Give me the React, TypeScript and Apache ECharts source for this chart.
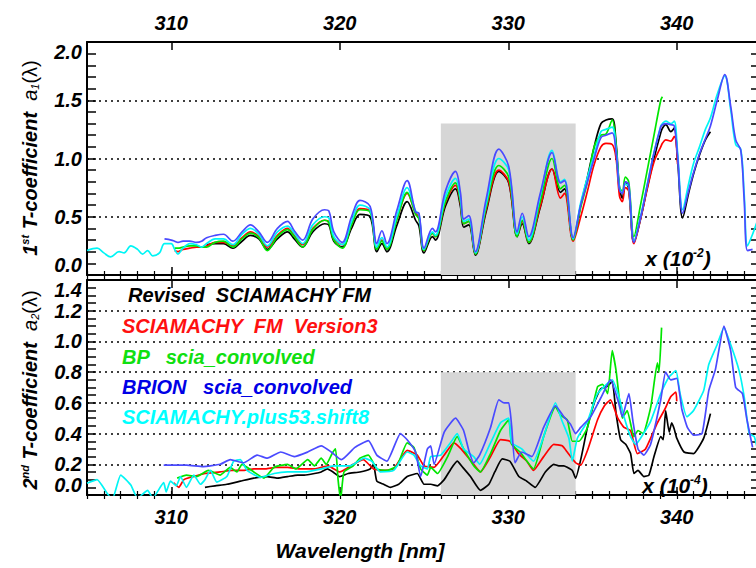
import React, { useEffect, useRef } from "react";
import * as echarts from "echarts";

// ---------- DATA ----------
// Top panel: shared wavelength grid (nm) for the 1st T-coefficient a1 (x 1e-2)
const wlTop = [
  305.0, 305.6, 306.0, 306.4, 306.9, 307.2, 307.6, 308.0, 308.3, 308.6,
  308.9, 309.3, 309.6, 310.0, 310.2, 310.4, 310.7, 311.1, 311.5, 311.8,
  312.1, 312.6, 313.1, 313.66, 314.2, 314.7, 315.2, 315.7, 316.3, 316.9,
  317.3, 317.8, 318.4, 319.1, 319.35, 319.65, 320.15, 320.7, 321.2, 321.8,
  322.2, 322.5, 322.8, 323.4, 324.0, 324.5, 324.7, 325.0, 325.5, 325.68,
  326.27, 326.87, 327.16, 327.36, 327.66, 328.05, 328.7, 329.44, 330.03, 330.53,
  330.83, 331.22, 331.9, 332.6, 333.1, 333.34, 333.85, 334.3, 334.7, 335.1,
  335.5, 335.8, 336.17, 336.4, 336.6, 336.77, 336.95, 337.15, 337.46, 337.85,
  338.25, 338.65, 339.05, 339.15, 339.35, 339.65, 339.85, 340.05, 340.35, 340.7,
  341.0, 341.35, 341.7, 342.0, 342.4, 342.85, 343.2, 343.5, 343.8, 344.0,
  344.2, 344.5, 344.8,
];
const N = null;
const a1Revised = [
  N, N, N, N, N, N, N, N, N, N,
  N, N, N, N, N, N, N, N, N, N,
  0.26, 0.27, 0.27, 0.23, 0.29, 0.34, 0.31, 0.22, 0.31, 0.37,
  0.31, 0.24, 0.37, 0.44, 0.43, 0.29, 0.24, 0.40, 0.52, 0.50,
  0.20, 0.27, 0.20, 0.43, 0.63, 0.47, 0.42, 0.19, 0.33, 0.30,
  0.59, 0.74, 0.59, 0.41, 0.43, 0.17, 0.55, 0.89, 0.79, 0.33,
  0.44, 0.27, 0.58, 0.91, 0.71, 0.74, 0.30, 0.60, 0.84, 1.10,
  1.30, 1.33, 1.34, 1.13, 0.75, 0.66, 0.80, 0.74, 0.28, 0.48,
  0.75, 1.00, 1.22, 1.26, 1.29, 1.23, 1.26, 0.99, 0.49, 0.70,
  0.87, 1.03, 1.16, 1.23, N, N, N, N, N, N,
  N, N, N,
];
const a1Version3 = [
  N, N, N, N, N, N, N, N, N, N,
  N, N, N, N, 0.21, 0.20, 0.22, 0.23, 0.24, 0.24,
  0.25, 0.28, 0.28, 0.25, 0.32, 0.37, 0.33, 0.24, 0.34, 0.40,
  0.34, 0.26, 0.40, 0.47, 0.46, 0.31, 0.26, 0.43, 0.57, 0.55,
  0.23, 0.30, 0.23, 0.48, 0.70, 0.53, 0.50, 0.21, 0.36, 0.33,
  0.62, 0.77, 0.62, 0.44, 0.46, 0.18, 0.57, 0.90, 0.80, 0.34,
  0.46, 0.28, 0.59, 0.91, 0.66, 0.70, 0.29, 0.50, 0.72, 0.95,
  1.10, 1.13, 1.12, 1.00, 0.68, 0.63, 0.75, 0.72, 0.27, 0.48,
  0.74, 0.97, 1.10, 1.13, 1.16, 1.15, 1.19, 0.95, N, N,
  N, N, N, N, N, N, N, N, N, N,
  N, N, N,
];
const a1BP = [
  N, N, N, N, N, N, N, N, N, N,
  N, N, N, N, 0.23, 0.23, 0.24, 0.25, 0.25, 0.24,
  0.24, 0.28, 0.29, 0.24, 0.31, 0.36, 0.32, 0.21, 0.33, 0.39,
  0.33, 0.24, 0.39, 0.47, 0.45, 0.30, 0.23, 0.43, 0.56, 0.54,
  0.22, 0.29, 0.22, 0.48, 0.71, 0.52, 0.48, 0.21, 0.36, 0.33,
  0.63, 0.79, 0.63, 0.44, 0.46, 0.18, 0.59, 0.94, 0.84, 0.33,
  0.47, 0.28, 0.63, 1.00, 0.74, 0.77, 0.30, 0.58, 0.80, 1.10,
  1.20, 1.21, 1.33, 1.10, 0.75, 0.72, 0.84, 0.80, 0.33, 0.60,
  0.90, 1.20, 1.50, 1.53, N, N, N, N, N, N,
  N, N, N, N, N, N, N, N, N, N,
  N, N, N,
];
const a1Brion = [
  N, N, N, N, N, N, N, N, N, N,
  N, N, 0.31, 0.30, 0.29, 0.28, 0.29, 0.29, 0.28, 0.29,
  0.32, 0.34, 0.35, 0.29, 0.37, 0.43, 0.37, 0.28, 0.40, 0.46,
  0.38, 0.30, 0.48, 0.56, 0.55, 0.37, 0.28, 0.50, 0.64, 0.59,
  0.27, 0.38, 0.27, 0.56, 0.81, 0.54, 0.53, 0.23, 0.40, 0.37,
  0.72, 0.89, 0.71, 0.48, 0.51, 0.20, 0.66, 1.08, 0.93, 0.37,
  0.53, 0.33, 0.70, 1.05, 0.79, 0.81, 0.32, 0.60, 0.80, 1.00,
  1.18, 1.20, 1.22, 1.05, 0.73, 0.70, 0.80, 0.78, 0.28, 0.49,
  0.77, 1.05, 1.27, 1.29, 1.30, 1.29, 1.28, 1.02, 0.53, 0.72,
  0.88, 1.04, 1.17, 1.28, 1.50, 1.72, 1.45, 1.16, 1.07, 0.65,
  0.21, 0.22, N,
];
const a1Shift8 = [
  0.21, 0.23, 0.19, 0.155, 0.20, 0.19, 0.25, 0.22, 0.18, 0.21,
  0.165, 0.19, 0.27, 0.27, 0.22, 0.18, 0.23, 0.27, 0.26, 0.24,
  0.27, 0.31, 0.31, 0.26, 0.35, 0.40, 0.35, 0.25, 0.37, 0.42,
  0.36, 0.27, 0.43, 0.50, 0.49, 0.33, 0.26, 0.46, 0.60, 0.56,
  0.24, 0.32, 0.24, 0.51, 0.75, 0.55, 0.52, 0.22, 0.37, 0.34,
  0.67, 0.83, 0.66, 0.46, 0.48, 0.19, 0.62, 1.00, 0.90, 0.35,
  0.50, 0.30, 0.68, 1.07, 0.80, 0.82, 0.31, 0.62, 0.84, 1.03,
  1.23, 1.25, 1.27, 1.08, 0.75, 0.70, 0.78, 0.76, 0.29, 0.50,
  0.78, 1.05, 1.28, 1.30, 1.32, 1.30, 1.32, 1.05, 0.56, 0.78,
  0.96, 1.10, 1.25, 1.35, 1.55, 1.71, 1.42, 1.12, 1.08, 0.70,
  0.25, 0.35, 0.47,
];

// Bottom panel: 2nd T-coefficient a2 (x 1e-4), per-series wavelengths
const wlRevised2 = [
  312.0, 312.6, 313.3, 314.1, 314.9, 315.7, 316.3, 316.9, 317.5, 317.9,
  318.5, 318.9, 319.26, 319.6, 320.0, 320.5, 321.2, 321.8, 322.0, 322.2,
  322.6, 323.0, 323.5, 324.0, 324.6, 325.0, 325.4, 325.8, 326.2, 326.6,
  326.97, 327.3, 327.76, 328.35, 328.85, 329.2, 329.64, 330.1, 330.63, 331.1,
  331.6, 332.2, 332.7, 333.0, 333.3, 333.5, 333.8, 334.0, 334.3, 334.7,
  335.1, 335.48, 335.9, 336.17, 336.4, 336.67, 336.97, 337.26, 337.46, 337.7,
  338.05, 338.35, 338.65, 339.05, 339.2, 339.34, 339.55, 339.7, 339.85, 340.0,
  340.43, 341.0, 341.6, 342.0,
];
const a2Revised = [
  0.05, 0.06, 0.07, 0.09, 0.11, 0.12, 0.11, 0.12, 0.13, 0.13,
  0.14, 0.15, 0.17, 0.15, 0.12, 0.14, 0.15, 0.17, 0.20, 0.09,
  0.07, 0.05, 0.07, 0.12, 0.14, 0.07, 0.07, 0.06, 0.10, 0.17,
  0.22, 0.18, 0.12, 0.03, 0.07, 0.15, 0.235, 0.22, 0.12, 0.09,
  0.05, 0.15, 0.20, 0.19, 0.19, 0.18, 0.16, 0.11, 0.23, 0.44,
  0.60, 0.69, 0.71, 0.74, 0.53, 0.36, 0.33, 0.27, 0.14, 0.16,
  0.12, 0.13, 0.25, 0.38, 0.36, 0.55, 0.41, 0.47, 0.43, 0.37,
  0.28, 0.27, 0.37, 0.53,
];
const wlVersion3_2 = [
  310.15, 310.45, 310.75, 311.3, 312.0, 312.9, 313.6, 314.3, 314.9, 315.6,
  316.2, 316.9, 317.6, 318.5, 319.3, 320.0, 320.8, 321.4, 322.0, 322.6,
  323.2, 324.0, 324.6, 325.0, 325.6, 326.2, 326.77, 327.2, 327.8, 328.35,
  328.95, 329.54, 330.1, 330.6, 331.1, 331.5, 332.1, 332.7, 333.2, 333.5,
  334.0, 334.3, 334.7, 335.3, 335.7, 336.07, 336.5, 336.87, 337.26, 337.66,
  338.15, 338.85, 339.3, 339.64, 339.95, 340.0,
];
const a2Version3 = [
  0.08, 0.05, 0.10, 0.12, 0.14, 0.15, 0.16, 0.16, 0.17, 0.17,
  0.18, 0.18, 0.17, 0.17, 0.19, 0.15, 0.20, 0.23, 0.17, 0.16,
  0.17, 0.29, 0.26, 0.19, 0.18, 0.26, 0.34, 0.30, 0.22, 0.15,
  0.25, 0.36, 0.35, 0.27, 0.22, 0.16, 0.25, 0.33, 0.32, 0.28,
  0.21, 0.195, 0.29, 0.49, 0.58, 0.62, 0.50, 0.44, 0.42, 0.27,
  0.30, 0.47, 0.56, 0.64, 0.67, 0.61,
];
const wlBP2 = [
  310.35, 310.9, 311.5, 312.2, 312.9, 313.5, 313.9, 314.2, 314.9, 315.5,
  316.1, 316.9, 317.4, 318.1, 318.5, 318.9, 319.2, 319.55, 319.75, 319.9,
  320.05, 320.25, 320.8, 321.2, 321.7, 322.2, 322.8, 323.4, 324.0, 324.4,
  324.8, 325.2, 325.4, 325.8, 326.4, 326.97, 327.35, 327.95, 328.35, 328.95,
  329.54, 330.03, 330.2, 330.7, 331.5, 332.1, 332.8, 333.1, 333.5, 333.8,
  334.2, 334.7, 335.3, 335.6, 335.9, 336.17, 336.4, 336.77, 337.06, 337.46,
  337.7, 338.0, 338.46, 338.85, 338.95, 339.1,
];
const a2BP = [
  0.11, 0.13, 0.12, 0.16, 0.13, 0.18, 0.15, 0.20, 0.15, 0.11,
  0.18, 0.20, 0.17, 0.23, 0.19, 0.24, 0.20, 0.27, 0.30, 0.10,
  -0.03, 0.15, 0.19, 0.24, 0.26, 0.17, 0.16, 0.19, 0.34, 0.31,
  0.17, 0.13, 0.18, 0.14, 0.25, 0.38, 0.30, 0.19, 0.15, 0.27,
  0.42, 0.49, 0.33, 0.28, 0.17, 0.38, 0.575, 0.52, 0.49, 0.35,
  0.35, 0.44, 0.705, 0.72, 0.66, 0.94, 0.81, 0.50, 0.55, 0.38,
  0.42, 0.40, 0.575, 0.86, 0.80, 1.09,
];
const wlBrion2 = [
  309.55, 310.9, 311.9, 312.9, 313.5, 314.3, 315.1, 315.7, 316.5, 317.3,
  318.1, 318.9, 319.5, 320.1, 320.9, 321.7, 322.2, 322.8, 323.6, 324.0,
  324.5, 324.8, 325.2, 325.4, 325.6, 326.2, 326.87, 327.35, 327.66, 327.95,
  328.3, 328.95, 329.44, 329.75, 330.03, 330.2, 330.4, 330.8, 331.4, 332.1,
  332.8, 333.3, 333.7, 333.99, 334.3, 334.9, 335.48, 336.07, 336.5, 336.77,
  337.16, 337.4, 337.7, 338.05, 338.45, 339.05, 339.34, 339.64, 340.0, 340.3,
  340.63, 341.0, 341.5, 341.9, 342.3, 342.8, 343.2, 343.5, 343.9, 344.15,
  344.5,
];
const a2Brion = [
  0.195, 0.195, 0.185, 0.20, 0.23, 0.21, 0.26, 0.24, 0.28, 0.25,
  0.28, 0.32, 0.28, 0.23, 0.31, 0.354, 0.26, 0.22, 0.40, 0.36,
  0.28, 0.12, 0.30, 0.32, 0.20, 0.41, 0.50, 0.42, 0.29, 0.21,
  0.26, 0.44, 0.62, 0.60, 0.60, 0.45, 0.21, 0.28, 0.25, 0.44,
  0.58, 0.51, 0.46, 0.40, 0.44, 0.51, 0.63, 0.75, 0.62, 0.51,
  0.66, 0.48, 0.30, 0.26, 0.33, 0.62, 0.80, 0.75, 0.76, 0.56,
  0.44, 0.39, 0.40, 0.68, 0.82, 1.10, 0.94, 0.70, 0.66, 0.50,
  0.31,
];
const wlShift8_2 = [
  305.0, 305.6, 306.2, 306.5, 307.0, 307.6, 308.0, 308.6, 308.9, 309.55,
  309.7, 309.95, 310.3, 310.55, 310.9, 311.34, 311.73, 312.0, 312.33, 312.7,
  313.3, 313.7, 314.1, 314.5, 315.3, 316.1, 316.9, 317.9, 318.9, 319.65,
  320.6, 321.45, 321.9, 322.4, 323.2, 324.0, 324.4, 324.8, 325.2, 325.4,
  326.0, 326.57, 326.97, 327.35, 327.95, 328.3, 328.95, 329.54, 330.03, 330.2,
  330.8, 331.5, 332.1, 332.8, 333.2, 333.6, 333.8, 334.1, 334.7, 335.3,
  336.17, 336.57, 336.87, 337.26, 337.56, 337.85, 338.45, 339.05, 339.55, 339.95,
  340.2, 340.6, 341.0, 341.6, 341.9, 342.4, 342.8, 343.2, 343.7, 344.0,
  344.3, 344.6, 344.8,
];
const a2Shift8 = [
  0.076, 0.10, 0.01, -0.03, 0.13, 0.065, -0.02, 0.03, -0.02, 0.08,
  0.02, 0.09, 0.06, 0.12, 0.05, 0.13, 0.07, 0.10, 0.16, 0.084,
  0.12, 0.22, 0.23, 0.16, 0.115, 0.14, 0.15, 0.15, 0.17, 0.19,
  0.19, 0.24, 0.22, 0.15, 0.16, 0.28, 0.26, 0.19, 0.17, 0.25,
  0.26, 0.34, 0.40, 0.30, 0.25, 0.20, 0.34, 0.47, 0.50, 0.34,
  0.30, 0.22, 0.38, 0.60, 0.48, 0.37, 0.22, 0.37, 0.48, 0.66,
  0.75, 0.64, 0.51, 0.38, 0.33, 0.37, 0.48, 0.66, 0.77, 0.81,
  0.66, 0.51, 0.55, 0.68, 0.85, 0.98, 1.09, 0.98, 0.81, 0.64,
  0.40, 0.38, 0.29,
];

const seriesNames = [
  "Revised  SCIAMACHY FM",
  "SCIAMACHY  FM  Version3",
  "BP   scia_convolved",
  "BRION   scia_convolved",
  "SCIAMACHY.plus53.shift8",
];
const xRange = [305, 345];
const a1Range = [0, 2.0];
const a2Range = [0, 1.4];
const shadeWl = [326, 334];
const shadeTopA1 = 1.3;
const shadeTopA2 = 0.8;

// ---------- STYLE ----------
const F = "'Liberation Sans', Arial, Helvetica, sans-serif";
const lineColors = ["#000000", "#ff0000", "#00e600", "#4a4aff", "#00f5f5"];
const legendColors = ["#000000", "#ff1010", "#10e010", "#0000e6", "#00ffff"];

function pairs(wl: number[], vals: (number | null)[]) {
  const out: [number, number][] = [];
  wl.forEach((w, i) => {
    const v = vals[i];
    if (v !== null && v !== undefined) out.push([w, v]);
  });
  return out;
}

const tickFont = {
  fontFamily: F,
  fontWeight: "bold" as const,
  fontStyle: "italic" as const,
  fontSize: 20,
  color: "#000",
};

function xMajor(gridIndex: number, position: "top" | "bottom", labels: boolean, margin: number) {
  return {
    type: "value",
    gridIndex,
    position,
    min: xRange[0],
    max: xRange[1],
    splitNumber: 4,
    axisLine: { show: true, onZero: false, lineStyle: { color: "#000", width: 2 } },
    axisTick: { show: true, inside: true, length: 8, lineStyle: { color: "#000", width: 1.5 } },
    axisLabel: {
      show: labels,
      margin,
      ...tickFont,
      formatter: (v: number) => (Math.round(v) % 10 === 0 ? String(Math.round(v)) : ""),
    },
    splitLine: { show: false },
  };
}
function xMinor(gridIndex: number, position: "top" | "bottom") {
  return {
    type: "value",
    gridIndex,
    position,
    min: xRange[0],
    max: xRange[1],
    interval: 1,
    axisLine: { show: false },
    axisTick: { show: true, inside: true, length: 4, lineStyle: { color: "#000", width: 1.2 } },
    axisLabel: { show: false },
    splitLine: { show: false },
  };
}
function yLeft(gridIndex: number, range: number[], interval: number, minorSplit: number) {
  return {
    type: "value",
    gridIndex,
    position: "left",
    min: range[0],
    max: range[1],
    interval,
    axisLine: { show: true, onZero: false, lineStyle: { color: "#000", width: 2 } },
    axisTick: { show: true, inside: true, length: 9, lineStyle: { color: "#000", width: 1.5 } },
    minorTick: { show: true, splitNumber: minorSplit, length: 9, lineStyle: { color: "#000", width: 1.5 } },
    axisLabel: {
      margin: 5,
      ...tickFont,
      formatter: (v: number) => v.toFixed(1),
      verticalAlignMinLabel: "bottom",
      verticalAlignMaxLabel: "top",
    },
    splitLine: { show: true, lineStyle: { color: "#000", width: 1.6, type: [2, 4] } },
  };
}
function yRight(gridIndex: number, range: number[], interval: number, minorSplit: number) {
  return {
    type: "value",
    gridIndex,
    position: "right",
    min: range[0],
    max: range[1],
    interval,
    axisLine: { show: true, onZero: false, lineStyle: { color: "#000", width: 2 } },
    axisTick: { show: true, inside: true, length: 10, lineStyle: { color: "#000", width: 1.5 } },
    minorTick: { show: true, splitNumber: minorSplit, length: 10, lineStyle: { color: "#000", width: 1.5 } },
    axisLabel: { show: false },
    splitLine: { show: false },
  };
}

function lineSeries(name: string, data: [number, number][], color: string, xi: number, yi: number, smooth: number) {
  return {
    name,
    type: "line",
    xAxisIndex: xi,
    yAxisIndex: yi,
    data,
    showSymbol: false,
    symbol: "none",
    smooth,
    clip: true,
    z: 3,
    lineStyle: { color, width: 1.7 },
  };
}

const boldItalic = { fontFamily: F, fontWeight: "bold", fontStyle: "italic", fill: "#000" };

export default function App() {
  const ref = useRef<HTMLDivElement>(null);
  useEffect(() => {
    if (!ref.current) return;
    const chart = echarts.init(ref.current, null, { renderer: "svg" });

    const topData = [a1Revised, a1Version3, a1BP, a1Shift8, a1Brion];
    const topColors = [lineColors[0], lineColors[1], lineColors[2], lineColors[4], lineColors[3]];
    const topNames = [seriesNames[0], seriesNames[1], seriesNames[2], seriesNames[4], seriesNames[3]];
    const botWl = [wlRevised2, wlVersion3_2, wlBP2, wlShift8_2, wlBrion2];
    const botVals = [a2Revised, a2Version3, a2BP, a2Shift8, a2Brion];

    const series: any[] = [
      {
        type: "line",
        xAxisIndex: 0,
        yAxisIndex: 0,
        data: [],
        z: 1,
        silent: true,
        markArea: {
          silent: true,
          itemStyle: { color: "#d6d6d6" },
          data: [[{ xAxis: shadeWl[0], yAxis: 0 }, { xAxis: shadeWl[1], yAxis: shadeTopA1 }]],
        },
      },
      {
        type: "line",
        xAxisIndex: 4,
        yAxisIndex: 2,
        data: [],
        z: 1,
        silent: true,
        markArea: {
          silent: true,
          itemStyle: { color: "#d6d6d6" },
          data: [[{ xAxis: shadeWl[0], yAxis: 0 }, { xAxis: shadeWl[1], yAxis: shadeTopA2 }]],
        },
      },
    ];
    topData.forEach((vals, i) => {
      series.push(lineSeries(topNames[i] + " a1", pairs(wlTop, vals), topColors[i], 0, 0, 0.35));
    });
    botVals.forEach((vals, i) => {
      series.push(lineSeries(topNames[i] + " a2", pairs(botWl[i], vals), topColors[i], 4, 2, 0.15));
    });

    const legendX = [128, 122, 122, 122, 122];
    const legendY = [295, 326, 357, 387, 417];

    const sup = { ...boldItalic, fontSize: 11, padding: [0, 0, 10, 0] };
    const sub = { fontFamily: F, fontStyle: "italic", fill: "#000", fontSize: 11, padding: [10, 0, 0, 0] };
    const big = { ...boldItalic, fontSize: 20 };
    const ital = { fontFamily: F, fontStyle: "italic", fill: "#000", fontSize: 20 };
    const reg = { fontFamily: F, fill: "#000", fontSize: 20 };

    const graphics: any[] = [];
    seriesNames.forEach((t, i) => {
      graphics.push({
        type: "text",
        x: legendX[i],
        y: legendY[i],
        style: {
          text: t,
          ...boldItalic,
          fontSize: 20,
          fill: legendColors[i],
          align: "left",
          verticalAlign: "middle",
        },
      });
    });
    graphics.push({
      type: "text",
      x: 30,
      y: 158,
      rotation: Math.PI / 2,
      style: {
        text: "{b|1}{s|st}{b| T-coefficient  }{i|a}{u|1}{r|(λ)}",
        rich: { b: big, s: sup, i: ital, u: sub, r: reg },
        align: "center",
        verticalAlign: "middle",
      },
    });
    graphics.push({
      type: "text",
      x: 30,
      y: 390,
      rotation: Math.PI / 2,
      style: {
        text: "{b|2}{s|nd}{b| T-coefficient  }{i|a}{u|2}{r|(λ)}",
        rich: { b: big, s: sup, i: ital, u: sub, r: reg },
        align: "center",
        verticalAlign: "middle",
      },
    });
    const xb = { ...boldItalic, fontSize: 21 };
    const xs = { ...boldItalic, fontSize: 12, padding: [0, 0, 10, 0] };
    graphics.push({
      type: "text",
      x: 678,
      y: 258,
      style: { text: "{b|x (10}{s|-2}{b|)}", rich: { b: xb, s: xs }, align: "center", verticalAlign: "middle" },
    });
    graphics.push({
      type: "text",
      x: 675,
      y: 485,
      style: { text: "{b|x (10}{s|-4}{b|)}", rich: { b: xb, s: xs }, align: "center", verticalAlign: "middle" },
    });
    graphics.push({
      type: "text",
      x: 360,
      y: 550,
      style: {
        text: "Wavelength [nm]",
        ...boldItalic,
        fontSize: 21,
        align: "center",
        verticalAlign: "middle",
      },
    });

    chart.setOption({
      animation: false,
      backgroundColor: "#ffffff",
      grid: [
        { left: 87, width: 674, top: 42, height: 233, containLabel: false, outerBoundsMode: "none" },
        { left: 87, width: 674, top: 280, height: 215, containLabel: false, outerBoundsMode: "none" },
      ],
      xAxis: [
        xMajor(0, "top", true, 9),
        xMinor(0, "top"),
        xMajor(0, "bottom", false, 8),
        xMinor(0, "bottom"),
        xMajor(1, "bottom", true, 12),
        xMinor(1, "bottom"),
        xMajor(1, "top", false, 8),
        xMinor(1, "top"),
      ],
      yAxis: [
        yLeft(0, a1Range, 0.5, 5),
        yRight(0, a1Range, 0.5, 5),
        yLeft(1, a2Range, 0.2, 4),
        yRight(1, a2Range, 0.2, 4),
      ],
      series,
      graphic: graphics,
    });
    return () => chart.dispose();
  }, []);
  return (
    <div
      ref={ref}
      style={{ position: "fixed", left: 0, top: 0, width: 756, height: 568, background: "#fff" }}
    />
  );
}
